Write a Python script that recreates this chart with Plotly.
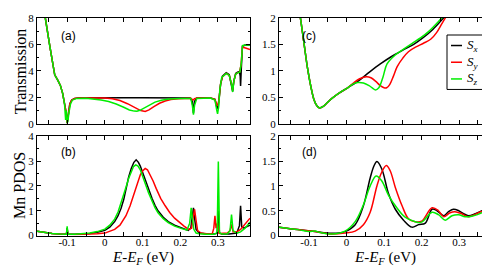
import plotly.graph_objects as go

# ---------------- data ----------------
# (a) Transmission, wide range
ea_black = [-0.17, -0.158, -0.145, -0.133, -0.125, -0.118, -0.112, -0.107, -0.103, -0.1, -0.097, -0.093, -0.088,
            -0.08, -0.07, -0.05, 0.0, 0.05, 0.1, 0.15, 0.2, 0.226, 0.232, 0.235, 0.238, 0.244, 0.28, 0.292, 0.297,
            0.3, 0.303, 0.307, 0.312, 0.322, 0.33, 0.336, 0.339, 0.342, 0.347, 0.352, 0.357, 0.359, 0.36, 0.362,
            0.365, 0.372, 0.385]
ta_black = [9.6, 8.0, 5.7, 3.7, 3.3, 2.9, 2.3, 1.6, 0.9, 0.05, 0.9, 1.5, 1.8,
            1.92, 1.95, 1.96, 1.97, 1.97, 1.97, 1.97, 1.96, 1.94, 1.7, 0.8, 1.7, 1.94, 1.95, 1.85, 1.25,
            1.15, 1.9, 3.0, 3.6, 3.85, 3.7, 3.0, 2.45, 3.2, 3.8, 3.9, 3.95, 3.6, 2.85, 4.2,
            5.85, 5.95, 5.95]

ea_red = [-0.17, -0.158, -0.145, -0.133, -0.125, -0.118, -0.112, -0.107, -0.103, -0.1, -0.097, -0.093, -0.088,
          -0.08, -0.07, -0.04, 0.0, 0.02, 0.04, 0.06, 0.08, 0.095, 0.107, 0.117, 0.13, 0.145, 0.16, 0.175,
          0.195, 0.215, 0.228, 0.234, 0.238, 0.244, 0.28, 0.292, 0.297, 0.3, 0.303, 0.307, 0.312, 0.322,
          0.33, 0.336, 0.339, 0.342, 0.347, 0.352, 0.357, 0.361, 0.365, 0.375, 0.385]
ta_red = [9.6, 8.0, 5.7, 3.7, 3.3, 2.9, 2.3, 1.6, 0.9, 0.05, 0.9, 1.5, 1.8,
          1.92, 1.95, 1.96, 1.95, 1.9, 1.76, 1.52, 1.22, 1.0, 0.94, 1.05, 1.3, 1.55, 1.72, 1.83,
          1.9, 1.93, 1.93, 1.8, 1.9, 1.94, 1.95, 1.85, 1.45, 1.4, 1.9, 3.0, 3.55, 3.8,
          3.65, 3.0, 2.55, 3.2, 3.75, 3.85, 3.9, 4.4, 5.8, 5.7, 5.6]

ea_green = [-0.17, -0.158, -0.145, -0.133, -0.125, -0.118, -0.112, -0.107, -0.104, -0.102, -0.1, -0.098, -0.095,
            -0.091, -0.086, -0.075, -0.05, -0.03, -0.01, 0.01, 0.03, 0.05, 0.065, 0.078, 0.085, 0.093, 0.103,
            0.118, 0.133, 0.15, 0.17, 0.2, 0.228, 0.232, 0.235, 0.238, 0.244, 0.28, 0.292, 0.297, 0.299,
            0.302, 0.305, 0.31, 0.322, 0.33, 0.336, 0.339, 0.342, 0.347, 0.352, 0.358, 0.362, 0.365, 0.372, 0.385]
ta_green = [9.6, 8.0, 5.7, 3.7, 3.3, 2.9, 2.3, 1.5, 0.3, 1.0, 0.05, 0.2, 0.9,
            1.5, 1.8, 1.92, 1.93, 1.88, 1.8, 1.68, 1.5, 1.25, 1.05, 0.96, 0.95, 1.02, 1.18,
            1.45, 1.64, 1.78, 1.87, 1.92, 1.92, 1.4, 0.7, 1.4, 1.92, 1.94, 1.8, 1.0, 0.75,
            1.3, 2.6, 3.5, 3.8, 3.65, 3.0, 2.4, 3.2, 3.75, 3.85, 3.9, 4.6, 5.9, 5.95, 5.95]

# (b) Mn PDOS, wide range
eb_black = [-0.18, -0.16, -0.14, -0.12, -0.102, -0.1, -0.098, -0.08, -0.06, -0.04, -0.02, 0.0, 0.013, 0.026,
            0.035, 0.043, 0.05, 0.056, 0.063, 0.07, 0.077, 0.083, 0.089, 0.094, 0.1, 0.107, 0.116, 0.125,
            0.133, 0.141, 0.155, 0.168, 0.185, 0.204, 0.221, 0.228, 0.232, 0.235, 0.238, 0.242, 0.25, 0.27,
            0.29, 0.298, 0.301, 0.304, 0.31, 0.33, 0.35, 0.357, 0.36, 0.363, 0.368, 0.376, 0.385]
pb_black = [0.17, 0.12, 0.08, 0.06, 0.05, 0.3, 0.05, 0.05, 0.06, 0.08, 0.13, 0.21, 0.34, 0.56,
            0.8, 1.1, 1.45, 1.9, 2.35, 2.7, 2.95, 3.05, 2.95, 2.8, 2.55, 2.2, 1.85, 1.5,
            1.22, 1.0, 0.74, 0.56, 0.42, 0.31, 0.21, 0.3, 0.7, 1.12, 0.7, 0.25, 0.1, 0.06,
            0.06, 0.1, 1.0, 0.1, 0.06, 0.06, 0.1, 0.4, 1.2, 0.35, 0.3, 0.35, 0.42]

eb_red = [-0.18, -0.16, -0.14, -0.12, -0.102, -0.1, -0.098, -0.08, -0.06, -0.04, -0.02, 0.0, 0.01, 0.026,
          0.04, 0.056, 0.067, 0.078, 0.086, 0.094, 0.1, 0.107, 0.113, 0.12, 0.128, 0.136, 0.148, 0.16,
          0.172, 0.185, 0.198, 0.21, 0.222, 0.23, 0.234, 0.238, 0.242, 0.246, 0.255, 0.27, 0.285, 0.289,
          0.292, 0.295, 0.299, 0.302, 0.305, 0.31, 0.325, 0.332, 0.336, 0.34, 0.35, 0.36, 0.372, 0.385]
pb_red = [0.17, 0.12, 0.08, 0.06, 0.05, 0.25, 0.05, 0.04, 0.04, 0.05, 0.07, 0.1, 0.15, 0.25,
          0.42, 0.8, 1.2, 1.7, 2.1, 2.45, 2.6, 2.7, 2.65, 2.45, 2.2, 1.9, 1.5, 1.2,
          0.93, 0.7, 0.52, 0.38, 0.25, 0.3, 0.7, 1.06, 0.6, 0.2, 0.1, 0.07, 0.08, 0.3,
          0.8, 0.3, 0.5, 0.1, 0.08, 0.08, 0.1, 0.2, 0.45, 0.15, 0.15, 0.25, 0.45, 0.7]

eb_green = [-0.18, -0.16, -0.14, -0.12, -0.102, -0.1, -0.098, -0.08, -0.06, -0.04, -0.02, 0.0, 0.013, 0.026,
            0.035, 0.043, 0.05, 0.056, 0.063, 0.07, 0.076, 0.082, 0.088, 0.094, 0.1, 0.107, 0.116, 0.125,
            0.133, 0.141, 0.155, 0.168, 0.185, 0.204, 0.218, 0.225, 0.229, 0.232, 0.236, 0.242, 0.25, 0.27,
            0.29, 0.298, 0.301, 0.304, 0.31, 0.325, 0.332, 0.336, 0.34, 0.35, 0.36, 0.372, 0.385]
pb_green = [0.17, 0.12, 0.08, 0.06, 0.05, 0.37, 0.05, 0.05, 0.07, 0.1, 0.16, 0.26, 0.42, 0.66,
            0.95, 1.3, 1.6, 1.95, 2.3, 2.6, 2.78, 2.85, 2.8, 2.65, 2.42, 2.1, 1.72, 1.38,
            1.12, 0.92, 0.68, 0.52, 0.38, 0.28, 0.22, 0.5, 1.12, 0.7, 0.25, 0.1, 0.07, 0.05,
            0.05, 0.12, 2.98, 0.12, 0.06, 0.07, 0.2, 0.85, 0.2, 0.1, 0.15, 0.3, 0.55]

# (c) Transmission, zoom
ec_black = [-0.135, -0.123, -0.113, -0.104, -0.095, -0.087, -0.079, -0.072, -0.062, -0.05, -0.039, -0.02, 0.003,
            0.03, 0.06, 0.09, 0.12, 0.15, 0.179, 0.205, 0.23, 0.259, 0.275]
tc_black = [2.5, 2.0, 1.5, 1.05, 0.7, 0.46, 0.34, 0.3, 0.33, 0.41, 0.48, 0.58, 0.68,
            0.8, 0.97, 1.13, 1.27, 1.39, 1.5, 1.63, 1.78, 2.0, 2.12]

ec_red = [-0.135, -0.123, -0.113, -0.104, -0.095, -0.087, -0.079, -0.072, -0.062, -0.05, -0.039, -0.02, 0.003,
          0.02, 0.035, 0.053, 0.065, 0.078, 0.09, 0.1, 0.107, 0.115, 0.125, 0.135, 0.15, 0.165, 0.185,
          0.205, 0.225, 0.24, 0.255, 0.27]
tc_red = [2.5, 2.0, 1.5, 1.05, 0.7, 0.46, 0.34, 0.3, 0.33, 0.41, 0.48, 0.58, 0.68,
          0.78, 0.85, 0.89, 0.87, 0.8, 0.72, 0.68, 0.68, 0.74, 0.9, 1.08, 1.24, 1.36, 1.45,
          1.52, 1.6, 1.72, 1.9, 2.08]

ec_green = [-0.135, -0.123, -0.113, -0.104, -0.095, -0.087, -0.079, -0.072, -0.062, -0.05, -0.039, -0.02, 0.003,
            0.017, 0.03, 0.045, 0.06, 0.07, 0.077, 0.086, 0.097, 0.108, 0.13, 0.152, 0.175, 0.197, 0.22,
            0.245, 0.26]
tc_green = [2.5, 2.0, 1.5, 1.05, 0.7, 0.46, 0.34, 0.3, 0.33, 0.41, 0.48, 0.58, 0.68,
            0.75, 0.78, 0.77, 0.72, 0.67, 0.64, 0.68, 0.88, 1.13, 1.3, 1.41, 1.52, 1.62, 1.75,
            1.93, 2.05]

# (d) Mn PDOS, zoom
ed_black = [-0.18, -0.13, -0.084, -0.039, -0.004, 0.023, 0.045, 0.063, 0.073, 0.081, 0.094, 0.112, 0.13,
            0.152, 0.174, 0.192, 0.21, 0.228, 0.241, 0.259, 0.272, 0.285, 0.299, 0.312, 0.325, 0.343,
            0.361, 0.379, 0.39]
pd_black = [0.17, 0.12, 0.08, 0.045, 0.08, 0.22, 0.6, 1.16, 1.4, 1.49, 1.34, 0.84, 0.53,
            0.31, 0.17, 0.22, 0.25, 0.53, 0.5, 0.4, 0.48, 0.53, 0.5, 0.44, 0.4, 0.44,
            0.5, 0.62, 0.69]

ed_red = [-0.18, -0.13, -0.084, -0.039, -0.004, 0.023, 0.045, 0.063, 0.081, 0.094, 0.106, 0.116, 0.13,
          0.148, 0.165, 0.183, 0.2, 0.228, 0.245, 0.259, 0.276, 0.289, 0.307, 0.325, 0.352, 0.379, 0.39]
pd_red = [0.17, 0.12, 0.08, 0.03, 0.05, 0.09, 0.22, 0.47, 1.0, 1.28, 1.41, 1.31, 0.97,
          0.6, 0.34, 0.28, 0.29, 0.56, 0.5, 0.38, 0.46, 0.48, 0.44, 0.38, 0.46, 0.56, 0.66]

ed_green = [-0.18, -0.13, -0.1, -0.084, -0.07, -0.039, -0.004, 0.023, 0.045, 0.063, 0.079, 0.094, 0.112,
            0.134, 0.156, 0.183, 0.2, 0.228, 0.245, 0.263, 0.281, 0.299, 0.316, 0.334, 0.361, 0.39]
pd_green = [0.17, 0.12, 0.08, 0.09, 0.06, 0.03, 0.09, 0.28, 0.62, 1.0, 1.2, 1.1, 0.81,
            0.56, 0.37, 0.28, 0.27, 0.47, 0.42, 0.31, 0.4, 0.42, 0.38, 0.39, 0.46, 0.66]

x_tick_vals = [-0.1, 0, 0.1, 0.2, 0.3]
x_tick_text = ['-0.1', '0', '0.1', '0.2', '0.3']
series_names = ['<i>S</i><sub><i>x</i></sub>', '<i>S</i><sub><i>y</i></sub>', '<i>S</i><sub><i>z</i></sub>']
series_colors = ['#000000', '#ff0000', '#00ee00']

# ---------------- figure ----------------
W, H = 490, 267
def fx(p):
    return p / W
def fy(p):
    return 1 - p / H

SERIF = 'Liberation Serif, Times New Roman, serif'
fig = go.Figure()

panels = [
    ('x', 'y', [(ea_black, ta_black), (ea_red, ta_red), (ea_green, ta_green)], 'linear'),
    ('x2', 'y2', [(eb_black, pb_black), (eb_red, pb_red), (eb_green, pb_green)], 'linear'),
    ('x3', 'y3', [(ec_black, tc_black), (ec_red, tc_red), (ec_green, tc_green)], 'spline'),
    ('x4', 'y4', [(ed_black, pd_black), (ed_red, pd_red), (ed_green, pd_green)], 'spline'),
]
for xa, ya, ser, shape in panels:
    for (xs, ys), col in zip(ser, series_colors):
        fig.add_trace(go.Scatter(x=xs, y=ys, mode='lines', xaxis=xa, yaxis=ya,
                                 line=dict(color=col, width=1.5, shape=shape),
                                 showlegend=False, hoverinfo='skip', cliponaxis=True))

def xax(domain, labels, anchor):
    return dict(domain=domain, anchor=anchor, range=[-0.18, 0.385],
                showline=True, linecolor='black', linewidth=1, mirror='allticks',
                ticks='inside', ticklen=4, tickwidth=1, tickcolor='black',
                tickmode='array', tickvals=x_tick_vals, ticktext=x_tick_text,
                showticklabels=labels, ticklabelstandoff=-4,
                minor=dict(dtick=0.05, tick0=0, ticks='inside', ticklen=4, tickwidth=1, tickcolor='black', showgrid=False),
                showgrid=False, zeroline=False,
                tickfont=dict(family=SERIF, size=11, color='black'))

def yax(domain, rng, dt, anchor):
    return dict(domain=domain, anchor=anchor, range=rng,
                showline=True, linecolor='black', linewidth=1, mirror='allticks',
                ticks='inside', ticklen=4, tickwidth=1, tickcolor='black',
                dtick=dt, tick0=0,
                minor=dict(dtick=dt / 2, tick0=0, ticks='inside', ticklen=2, tickwidth=1, tickcolor='black', showgrid=False),
                showgrid=False, zeroline=False,
                tickfont=dict(family=SERIF, size=11, color='black'))

dxl = [fx(29), fx(242)]
dxr = [fx(271), fx(483)]
dyt = [fy(115), fy(4)]
dyb = [fy(232), fy(128)]

fig.update_layout(
    width=W, height=H, margin=dict(l=0, r=0, t=0, b=0),
    paper_bgcolor='white', plot_bgcolor='white', showlegend=False,
    xaxis=xax(dxl, False, 'y'), yaxis=yax(dyt, [0, 8], 2, 'x'),
    xaxis2=xax(dxl, True, 'y2'), yaxis2=yax(dyb, [0, 4], 1, 'x2'),
    xaxis3=xax(dxr, False, 'y3'), yaxis3=yax(dyt, [0, 2], 0.5, 'x3'),
    xaxis4=xax(dxr, True, 'y4'), yaxis4=yax(dyb, [0, 2], 0.5, 'x4'),
)

ann = []
for txt, (px, py) in zip(['(a)', '(b)', '(c)', '(d)'], [(60, 23), (60, 145), (301, 23), (301, 145)]):
    ann.append(dict(text=txt, x=fx(px), y=fy(py), xref='paper', yref='paper', showarrow=False,
                    xanchor='center', yanchor='middle', font=dict(family='Liberation Sans, Arial, sans-serif', size=12, color='black')))
for txt, py in [('Transmission', 60), ('Mn PDOS', 180)]:
    ann.append(dict(text=txt, x=fx(12), y=fy(py), xref='paper', yref='paper', showarrow=False, textangle=-90,
                    xanchor='center', yanchor='middle', font=dict(family=SERIF, size=16, color='black')))
for px in [135, 377]:
    ann.append(dict(text='<i>E</i>-<i>E</i><sub><i>F</i></sub> (eV)', x=fx(px), y=fy(266.5), xref='paper', yref='paper',
                    showarrow=False, xanchor='center', yanchor='bottom', font=dict(family=SERIF, size=15, color='black')))

# legend box in panel (c)
shapes = [dict(type='rect', xref='paper', yref='paper', x0=fx(439), x1=fx(475), y0=fy(79), y1=fy(22),
               line=dict(color='black', width=1), fillcolor='white', layer='above')]
for i, (name, col) in enumerate(zip(series_names, series_colors)):
    yy = 33 + i * 17.5
    shapes.append(dict(type='line', xref='paper', yref='paper', x0=fx(443), x1=fx(454), y0=fy(yy), y1=fy(yy),
                       line=dict(color=col, width=1.5), layer='above'))
    ann.append(dict(text=name, x=fx(457), y=fy(yy), xref='paper', yref='paper', showarrow=False,
                    xanchor='left', yanchor='middle', font=dict(family=SERIF, size=13, color='black')))

fig.update_layout(annotations=ann, shapes=shapes)
fig.write_html('out.html')
